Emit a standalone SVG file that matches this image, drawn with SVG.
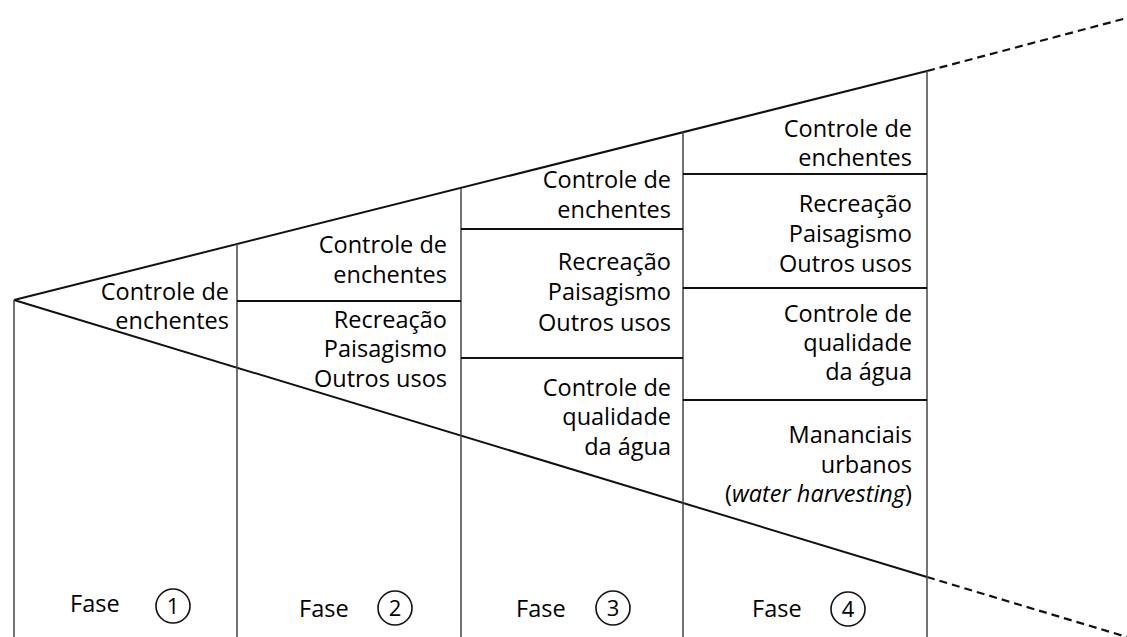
<svg xmlns="http://www.w3.org/2000/svg" width="1127" height="637" viewBox="0 0 1127 637">
<style>
.t{font-family:"Open Sans","Noto Sans","DejaVu Sans",sans-serif;font-size:23.5px;fill:#000;text-anchor:end}
.f{font-family:"Open Sans","Noto Sans","DejaVu Sans",sans-serif;font-size:23.5px;fill:#000}
.n{font-family:"Open Sans","Noto Sans","DejaVu Sans",sans-serif;font-size:22px;fill:#000;text-anchor:middle}
.c{fill:none;stroke:#111;stroke-width:1.6}
.d{stroke:#111;stroke-width:2;fill:none}
.v{stroke:#444;stroke-width:1.5;fill:none}
.h{stroke:#111;stroke-width:2;fill:none}
.ds{stroke:#111;stroke-width:2.2;fill:none;stroke-dasharray:8 5}
</style>
<rect width="1127" height="637" fill="#fff"/>
<g id="connectors">
<line class="d" x1="14" y1="300" x2="927" y2="71"/>
<line class="d" x1="14" y1="300" x2="927" y2="577"/>
<line class="ds" x1="927" y1="71" x2="1127" y2="18"/>
<line class="ds" x1="927" y1="577" x2="1127" y2="637"/>
<line class="v" x1="14" y1="300" x2="14" y2="637"/>
<line class="v" x1="237" y1="244" x2="237" y2="637"/>
<line class="v" x1="461" y1="188" x2="461" y2="637"/>
<line class="v" x1="683" y1="132" x2="683" y2="637"/>
<line class="v" x1="927" y1="71" x2="927" y2="637"/>
<line class="h" x1="237" y1="301" x2="461" y2="301"/>
<line class="h" x1="461" y1="229" x2="683" y2="229"/>
<line class="h" x1="461" y1="358" x2="683" y2="358"/>
<line class="h" x1="683" y1="174" x2="927" y2="174"/>
<line class="h" x1="683" y1="288" x2="927" y2="288"/>
<line class="h" x1="683" y1="400" x2="927" y2="400"/>
</g>
<g id="f1-controle"><text class="t" x="229" y="300">Controle de</text><text class="t" x="229" y="329">enchentes</text></g>
<g id="f2-controle"><text class="t" x="447" y="253">Controle de</text><text class="t" x="447" y="283">enchentes</text></g>
<g id="f2-recreacao"><text class="t" x="447" y="328">Recreação</text><text class="t" x="447" y="357">Paisagismo</text><text class="t" x="447" y="387">Outros usos</text></g>
<g id="f3-controle"><text class="t" x="671" y="188">Controle de</text><text class="t" x="671" y="218">enchentes</text></g>
<g id="f3-recreacao"><text class="t" x="671" y="270">Recreação</text><text class="t" x="671" y="300">Paisagismo</text><text class="t" x="671" y="331">Outros usos</text></g>
<g id="f3-qualidade"><text class="t" x="671" y="396">Controle de</text><text class="t" x="671" y="425">qualidade</text><text class="t" x="671" y="455">da água</text></g>
<g id="f4-controle"><text class="t" x="912" y="137">Controle de</text><text class="t" x="912" y="166">enchentes</text></g>
<g id="f4-recreacao"><text class="t" x="912" y="212">Recreação</text><text class="t" x="912" y="242">Paisagismo</text><text class="t" x="912" y="272">Outros usos</text></g>
<g id="f4-qualidade"><text class="t" x="912" y="322">Controle de</text><text class="t" x="912" y="351">qualidade</text><text class="t" x="912" y="380">da água</text></g>
<g id="f4-mananciais"><text class="t" x="912" y="443">Mananciais</text><text class="t" x="912" y="473">urbanos</text><text class="t" x="912" y="502">(<tspan font-style="italic">water harvesting</tspan>)</text></g>
<g id="fase1"><text class="f" x="70" y="612">Fase</text><circle class="c" cx="173" cy="606" r="17"/><text class="n" x="173" y="614">1</text></g>
<g id="fase2"><text class="f" x="299" y="617">Fase</text><circle class="c" cx="395" cy="608" r="17"/><text class="n" x="395" y="616">2</text></g>
<g id="fase3"><text class="f" x="516" y="617">Fase</text><circle class="c" cx="613" cy="608" r="17"/><text class="n" x="613" y="616">3</text></g>
<g id="fase4"><text class="f" x="752" y="617">Fase</text><circle class="c" cx="848" cy="609" r="17"/><text class="n" x="848" y="617">4</text></g>
</svg>
